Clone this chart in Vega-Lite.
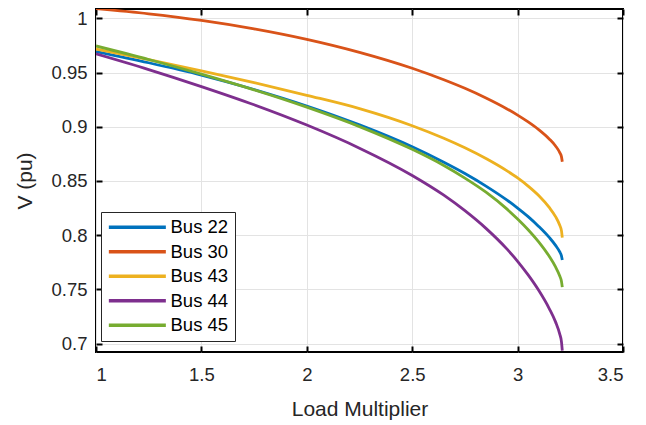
{
  "$schema": "https://vega.github.io/schema/vega-lite/v6.json",
  "width": 527,
  "height": 343,
  "autosize": {"type": "none"},
  "padding": {"left": 96, "top": 9, "right": 23, "bottom": 73},
  "background": "white",
  "config": {
    "font": "Liberation Sans",
    "view": {"stroke": "black", "strokeWidth": 2},
    "axis": {"domain": false}
  },
  "datasets": {
    "pv": [
      {"lm": 1, "v": 0.9695, "bus": "Bus 22"},
      {"lm": 1.25, "v": 0.9591, "bus": "Bus 22"},
      {"lm": 1.5, "v": 0.9477, "bus": "Bus 22"},
      {"lm": 1.75, "v": 0.9344, "bus": "Bus 22"},
      {"lm": 2, "v": 0.9192, "bus": "Bus 22"},
      {"lm": 2.25, "v": 0.9018, "bus": "Bus 22"},
      {"lm": 2.5, "v": 0.8816, "bus": "Bus 22"},
      {"lm": 2.65, "v": 0.8673, "bus": "Bus 22"},
      {"lm": 2.75, "v": 0.8569, "bus": "Bus 22"},
      {"lm": 2.85, "v": 0.8453, "bus": "Bus 22"},
      {"lm": 2.95, "v": 0.8323, "bus": "Bus 22"},
      {"lm": 3, "v": 0.825, "bus": "Bus 22"},
      {"lm": 3.05, "v": 0.8171, "bus": "Bus 22"},
      {"lm": 3.1, "v": 0.8081, "bus": "Bus 22"},
      {"lm": 3.15, "v": 0.7979, "bus": "Bus 22"},
      {"lm": 3.18, "v": 0.7906, "bus": "Bus 22"},
      {"lm": 3.2, "v": 0.7845, "bus": "Bus 22"},
      {"lm": 3.208, "v": 0.7809, "bus": "Bus 22"},
      {"lm": 3.212, "v": 0.777, "bus": "Bus 22"},
      {"lm": 1, "v": 1.009, "bus": "Bus 30"},
      {"lm": 1.25, "v": 1.0043, "bus": "Bus 30"},
      {"lm": 1.5, "v": 0.9982, "bus": "Bus 30"},
      {"lm": 1.75, "v": 0.9904, "bus": "Bus 30"},
      {"lm": 2, "v": 0.9807, "bus": "Bus 30"},
      {"lm": 2.25, "v": 0.9687, "bus": "Bus 30"},
      {"lm": 2.5, "v": 0.954, "bus": "Bus 30"},
      {"lm": 2.65, "v": 0.9434, "bus": "Bus 30"},
      {"lm": 2.75, "v": 0.9355, "bus": "Bus 30"},
      {"lm": 2.85, "v": 0.9266, "bus": "Bus 30"},
      {"lm": 2.95, "v": 0.9165, "bus": "Bus 30"},
      {"lm": 3, "v": 0.9108, "bus": "Bus 30"},
      {"lm": 3.05, "v": 0.9045, "bus": "Bus 30"},
      {"lm": 3.1, "v": 0.8974, "bus": "Bus 30"},
      {"lm": 3.15, "v": 0.8888, "bus": "Bus 30"},
      {"lm": 3.18, "v": 0.8823, "bus": "Bus 30"},
      {"lm": 3.2, "v": 0.8762, "bus": "Bus 30"},
      {"lm": 3.208, "v": 0.8725, "bus": "Bus 30"},
      {"lm": 3.212, "v": 0.8678, "bus": "Bus 30"},
      {"lm": 1, "v": 0.9717, "bus": "Bus 43"},
      {"lm": 1.25, "v": 0.962, "bus": "Bus 43"},
      {"lm": 1.5, "v": 0.9517, "bus": "Bus 43"},
      {"lm": 1.75, "v": 0.9407, "bus": "Bus 43"},
      {"lm": 2, "v": 0.9291, "bus": "Bus 43"},
      {"lm": 2.25, "v": 0.9168, "bus": "Bus 43"},
      {"lm": 2.5, "v": 0.901, "bus": "Bus 43"},
      {"lm": 2.65, "v": 0.8894, "bus": "Bus 43"},
      {"lm": 2.75, "v": 0.8806, "bus": "Bus 43"},
      {"lm": 2.85, "v": 0.8707, "bus": "Bus 43"},
      {"lm": 2.95, "v": 0.8593, "bus": "Bus 43"},
      {"lm": 3, "v": 0.8528, "bus": "Bus 43"},
      {"lm": 3.05, "v": 0.8453, "bus": "Bus 43"},
      {"lm": 3.1, "v": 0.8366, "bus": "Bus 43"},
      {"lm": 3.15, "v": 0.8256, "bus": "Bus 43"},
      {"lm": 3.18, "v": 0.8171, "bus": "Bus 43"},
      {"lm": 3.2, "v": 0.8091, "bus": "Bus 43"},
      {"lm": 3.208, "v": 0.8042, "bus": "Bus 43"},
      {"lm": 3.212, "v": 0.7978, "bus": "Bus 43"},
      {"lm": 1, "v": 0.9673, "bus": "Bus 44"},
      {"lm": 1.25, "v": 0.9528, "bus": "Bus 44"},
      {"lm": 1.5, "v": 0.9371, "bus": "Bus 44"},
      {"lm": 1.75, "v": 0.9203, "bus": "Bus 44"},
      {"lm": 2, "v": 0.9016, "bus": "Bus 44"},
      {"lm": 2.25, "v": 0.8803, "bus": "Bus 44"},
      {"lm": 2.5, "v": 0.8551, "bus": "Bus 44"},
      {"lm": 2.65, "v": 0.8369, "bus": "Bus 44"},
      {"lm": 2.75, "v": 0.8226, "bus": "Bus 44"},
      {"lm": 2.85, "v": 0.8063, "bus": "Bus 44"},
      {"lm": 2.95, "v": 0.7871, "bus": "Bus 44"},
      {"lm": 3, "v": 0.7759, "bus": "Bus 44"},
      {"lm": 3.05, "v": 0.7633, "bus": "Bus 44"},
      {"lm": 3.1, "v": 0.7491, "bus": "Bus 44"},
      {"lm": 3.15, "v": 0.7323, "bus": "Bus 44"},
      {"lm": 3.18, "v": 0.72, "bus": "Bus 44"},
      {"lm": 3.2, "v": 0.7087, "bus": "Bus 44"},
      {"lm": 3.208, "v": 0.7018, "bus": "Bus 44"},
      {"lm": 3.212, "v": 0.6935, "bus": "Bus 44"},
      {"lm": 1, "v": 0.9746, "bus": "Bus 45"},
      {"lm": 1.25, "v": 0.9621, "bus": "Bus 45"},
      {"lm": 1.5, "v": 0.9486, "bus": "Bus 45"},
      {"lm": 1.75, "v": 0.9341, "bus": "Bus 45"},
      {"lm": 2, "v": 0.9181, "bus": "Bus 45"},
      {"lm": 2.25, "v": 0.9002, "bus": "Bus 45"},
      {"lm": 2.5, "v": 0.8792, "bus": "Bus 45"},
      {"lm": 2.65, "v": 0.8643, "bus": "Bus 45"},
      {"lm": 2.75, "v": 0.8527, "bus": "Bus 45"},
      {"lm": 2.85, "v": 0.8397, "bus": "Bus 45"},
      {"lm": 2.95, "v": 0.824, "bus": "Bus 45"},
      {"lm": 3, "v": 0.8149, "bus": "Bus 45"},
      {"lm": 3.05, "v": 0.805, "bus": "Bus 45"},
      {"lm": 3.1, "v": 0.7938, "bus": "Bus 45"},
      {"lm": 3.15, "v": 0.7805, "bus": "Bus 45"},
      {"lm": 3.18, "v": 0.7707, "bus": "Bus 45"},
      {"lm": 3.2, "v": 0.7623, "bus": "Bus 45"},
      {"lm": 3.208, "v": 0.7575, "bus": "Bus 45"},
      {"lm": 3.212, "v": 0.7521, "bus": "Bus 45"}
    ]
  },
  "data": {"name": "pv"},
  "layer": [
    {
      "mark": {"type": "line", "strokeWidth": 0, "opacity": 0},
      "encoding": {
        "x": {
          "field": "lm", "type": "quantitative",
          "scale": {"domain": [1, 3.5], "nice": false, "zero": false},
          "axis": {"orient": "top", "offset": -6, "values": [1, 1.5, 2, 2.5, 3, 3.5], "labels": false, "title": null, "grid": false, "tickSize": 6, "tickWidth": 2, "tickColor": "black"}
        },
        "y": {
          "field": "v", "type": "quantitative",
          "scale": {"domain": [0.6922, 1.0087], "nice": false, "zero": false},
          "axis": {"orient": "right", "offset": -6, "values": [0.7, 0.75, 0.8, 0.85, 0.9, 0.95, 1], "labels": false, "title": null, "grid": false, "tickSize": 6, "tickWidth": 2, "tickColor": "black"}
        },
        "detail": {"field": "bus"}
      }
    },
    {
      "mark": {"type": "line", "strokeWidth": 2.8, "clip": true, "interpolate": "monotone"},
      "encoding": {
        "x": {
          "field": "lm", "type": "quantitative",
          "axis": {
            "orient": "bottom", "offset": -6, "values": [1, 1.5, 2, 2.5, 3, 3.5], "format": ".1~f",
            "title": "Load Multiplier", "titleFontSize": 21, "titleFontWeight": "normal", "titleColor": "#262626", "titlePadding": 15,
            "labelFontSize": 18.5, "labelColor": "#262626", "labelPadding": 13,
            "tickSize": 6, "tickWidth": 2, "tickColor": "black",
            "grid": true, "gridColor": "#e3e3e3", "gridWidth": 1
          }
        },
        "y": {
          "field": "v", "type": "quantitative",
          "axis": {
            "orient": "left", "offset": -6, "values": [0.7, 0.75, 0.8, 0.85, 0.9, 0.95, 1], "format": ".2~f",
            "title": "V (pu)", "titleFontSize": 21, "titleFontWeight": "normal", "titleColor": "#262626", "titlePadding": 15,
            "labelFontSize": 18.5, "labelColor": "#262626", "labelPadding": 9,
            "tickSize": 6, "tickWidth": 2, "tickColor": "black",
            "grid": true, "gridColor": "#e3e3e3", "gridWidth": 1
          }
        },
        "color": {
          "field": "bus", "type": "nominal",
          "scale": {"domain": ["Bus 22", "Bus 30", "Bus 43", "Bus 44", "Bus 45"], "range": ["#0072BD", "#D95319", "#EDB120", "#7E2F8E", "#77AC30"]},
          "legend": {
            "orient": "none", "legendX": 5, "legendY": 203, "title": null,
            "symbolType": "M-1.3,0L8.7,0", "symbolSize": 130, "symbolStrokeWidth": 3.5,
            "labelFontSize": 18.5, "labelColor": "black", "labelOffset": 45,
            "rowPadding": 5.5, "padding": 6, "strokeColor": "#262626", "fillColor": "white"
          }
        }
      }
    }
  ],
  "resolve": {"axis": {"x": "independent", "y": "independent"}}
}
